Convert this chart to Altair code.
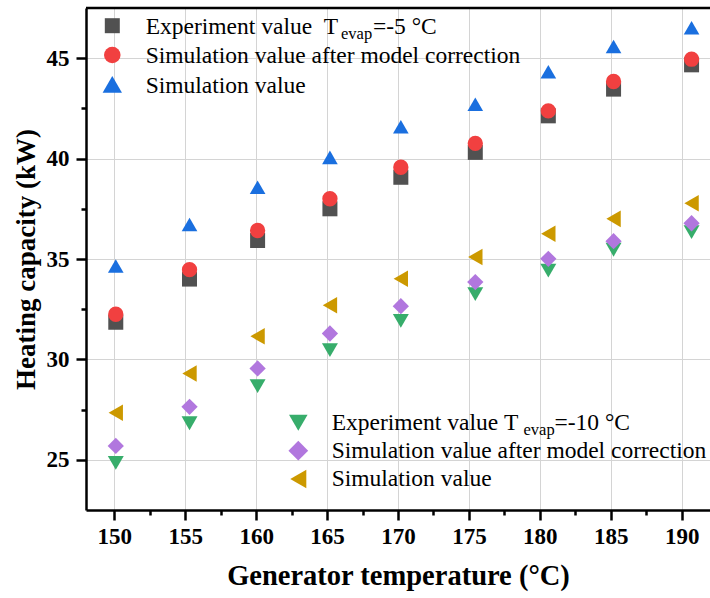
import altair as alt
import pandas as pd

# ---- data ----
gen_temp = [150.1, 155.3, 160.1, 165.2, 170.2, 175.45, 180.6, 185.2, 190.7]

exp_m5 = [31.85, 34.0, 35.92, 37.5, 39.07, 40.31, 42.13, 43.46, 44.67]
corr_m5 = [32.25, 34.47, 36.42, 38.0, 39.57, 40.76, 42.38, 43.84, 44.95]
sim_m5 = [34.65, 36.72, 38.57, 40.06, 41.59, 42.71, 44.33, 45.58, 46.52]

exp_m10 = [24.85, 26.82, 28.67, 30.46, 31.92, 33.25, 34.42, 35.46, 36.34]
corr_m10 = [25.69, 27.64, 29.55, 31.29, 32.65, 33.85, 35.01, 35.89, 36.78]
sim_m10 = [27.34, 29.3, 31.15, 32.7, 34.02, 35.1, 36.26, 37.0, 37.78]

series_names = ["exp_m5", "corr_m5", "sim_m5", "exp_m10", "corr_m10", "sim_m10"]
series_values = [exp_m5, corr_m5, sim_m5, exp_m10, corr_m10, sim_m10]
series_shapes = ["square", "circle", "triangle-up", "triangle-down", "diamond", "triangle-left"]
series_colors = ["#515151", "#F14040", "#1A6FDF", "#37AD6B", "#B177DE", "#CC9900"]
series_sizes = [225, 275, 375, 345, 390, 345]

x_ticks = [150, 155, 160, 165, 170, 175, 180, 185, 190]
x_minor = [152.5, 157.5, 162.5, 167.5, 172.5, 177.5, 182.5, 187.5]
y_ticks = [25, 30, 35, 40, 45]
y_minor = [27.5, 32.5, 37.5, 42.5]

NB = "\u00a0"
legend1_labels = ["Experiment value" + NB + NB + "T", "Simulation value after model correction", "Simulation value"]
legend2_labels = ["Experiment value" + NB + "T", "Simulation value after model correction", "Simulation value"]
sub_text = "evap"
legend1_tail = "=-5" + NB + "°C"
legend2_tail = "=-10" + NB + "°C"

x_title = "Generator temperature (°C)"
y_title = "Heating capacity (kW)"

FONT = "Liberation Serif"
W, H = 624, 502

rows = []
for name, vals in zip(series_names, series_values):
    for t, v in zip(gen_temp, vals):
        rows.append({"series": name, "T": t, "Q": v})
df = pd.DataFrame(rows)
one = pd.DataFrame({"a": [0]})

xscale = alt.Scale(domain=[148, 192], nice=False, zero=False)
yscale = alt.Scale(domain=[22.5, 47.5], nice=False, zero=False)

points = alt.Chart(df).mark_point(filled=True, opacity=1, strokeWidth=0).encode(
    x=alt.X("T:Q", scale=xscale, axis=alt.Axis(
        values=x_ticks, title=x_title, orient="bottom", grid=True, gridColor="#d4d4d4", gridWidth=1,
        domainColor="black", domainWidth=2.5, tickColor="black", tickWidth=2.5, tickSize=10,
        labelFont=FONT, labelFontSize=23, labelFontWeight="bold", labelColor="black", labelPadding=5,
        titleFont=FONT, titleFontSize=28.5, titleFontWeight="bold", titleColor="black", titlePadding=13,
        format="d")),
    y=alt.Y("Q:Q", scale=yscale, axis=alt.Axis(
        values=y_ticks, title=y_title, orient="left", grid=True, gridColor="#d4d4d4", gridWidth=1,
        domainColor="black", domainWidth=2.5, tickColor="black", tickWidth=2.5, tickSize=10,
        labelFont=FONT, labelFontSize=23, labelFontWeight="bold", labelColor="black", labelPadding=7,
        titleFont=FONT, titleFontSize=27, titleFontWeight="bold", titleColor="black", titlePadding=6,
        format="d")),
    shape=alt.Shape("series:N", scale=alt.Scale(domain=series_names, range=series_shapes), legend=None),
    color=alt.Color("series:N", scale=alt.Scale(domain=series_names, range=series_colors), legend=None),
    size=alt.Size("series:N", scale=alt.Scale(domain=series_names, range=series_sizes), legend=None),
    order=alt.Order("ord:Q"),
).transform_calculate(
    ord="indexof(%s, datum.series)" % str(series_names)
)

minor = alt.Chart(df).mark_point(opacity=0).encode(
    x=alt.X("T:Q", scale=xscale, axis=alt.Axis(
        values=x_minor, title=None, orient="bottom", labels=False, grid=False, domain=False,
        tickColor="black", tickWidth=2.5, tickSize=5)),
    y=alt.Y("Q:Q", scale=yscale, axis=alt.Axis(
        values=y_minor, title=None, orient="left", labels=False, grid=False, domain=False,
        tickColor="black", tickWidth=2.5, tickSize=5)),
)

top_border = alt.Chart(one).mark_rule(color="black", strokeWidth=2.5).encode(
    x=alt.value(0), x2=alt.value(W), y=alt.value(0))

layers = [points, minor, top_border]

# ---- legends (drawn by hand to allow the subscript) ----
def legend(sym_x, sym_ys, text_x, base_ys, labels, idx, sub_x, tail_x, tail):
    out = []
    for k, (sy, by, lab) in enumerate(zip(sym_ys, base_ys, labels)):
        i = idx[k]
        out.append(alt.Chart(one).mark_point(
            shape=series_shapes[i], filled=True, opacity=1, strokeWidth=0,
            color=series_colors[i], size=series_sizes[i]).encode(
            x=alt.value(sym_x), y=alt.value(sy)))
        out.append(alt.Chart(one).mark_text(
            text=lab, font=FONT, fontSize=23.5, align="left", baseline="alphabetic", color="black").encode(
            x=alt.value(text_x), y=alt.value(by)))
    out.append(alt.Chart(one).mark_text(
        text=sub_text, font=FONT, fontSize=16.5, align="left", baseline="alphabetic", color="black").encode(
        x=alt.value(sub_x), y=alt.value(base_ys[0] + 5)))
    out.append(alt.Chart(one).mark_text(
        text=tail, font=FONT, fontSize=23.5, align="left", baseline="alphabetic", color="black").encode(
        x=alt.value(tail_x), y=alt.value(base_ys[0])))
    return out

layers += legend(26.3, [17.7, 47.0, 76.3], 59.7, [26.0, 55.3, 84.6], legend1_labels, [0, 1, 2], 255, 287, legend1_tail)
layers += legend(212.3, [414.7, 442.7, 471.0], 245.7, [421.5, 449.5, 478.0], legend2_labels, [3, 4, 5], 437.5, 468.5, legend2_tail)

chart = alt.layer(*layers).resolve_axis(x="independent", y="independent").properties(
    width=W, height=H,
    autosize=alt.AutoSizeParams(type="none"),
    padding={"left": 86, "top": 8, "right": 0, "bottom": 88},
    background="white",
).configure_view(stroke=None)

chart.save("out.html", embed_options={"renderer": "svg", "actions": False})
